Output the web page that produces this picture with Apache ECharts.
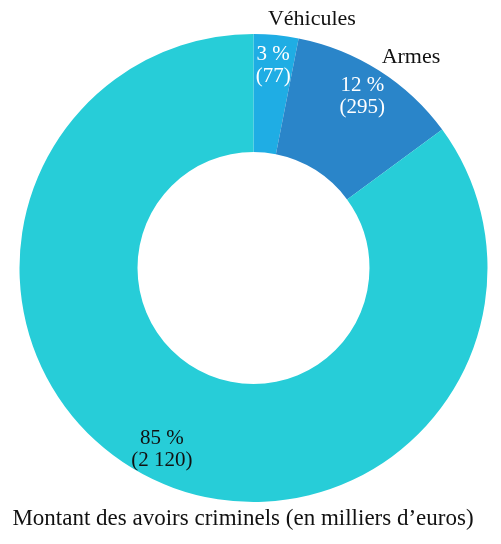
<!DOCTYPE html>
<html>
<head>
<meta charset="utf-8">
<script src="https://cdn.jsdelivr.net/npm/echarts@6/dist/echarts.min.js"></script>
<style>
  html, body { margin: 0; padding: 0; background: #fff; }
  #chart { width: 501px; height: 544px; }
</style>
</head>
<body>
<div id="chart"></div>
<script>
// données
const categories = ['Véhicules', 'Armes', 'Montant des avoirs criminels (en milliers d\u2019euros)']
const values = [77, 295, 2120]
const colors = ['#1fade4', '#2a85c9', '#27cdd8']

const font = '"Liberation Serif", "DejaVu Serif", serif'

function fmt(v) {
  return String(v).replace(/\B(?=(\d{3})+(?!\d))/g, ' ')
}

const chart = echarts.init(document.getElementById('chart'))

chart.setOption({
  animation: false,
  series: [
    {
      // anneau + noms à l'extérieur
      type: 'pie',
      center: [253.5, 268],
      radius: [116, 234],
      startAngle: 90,
      clockwise: true,
      silent: true,
      itemStyle: { borderWidth: 0 },
      label: {
        show: true,
        position: 'outside',
        color: '#111',
        fontFamily: font,
        fontSize: 22,
        overflow: 'none',
        formatter: '{b}'
      },
      labelLine: { show: false, length: 18, length2: 0 },
      labelLayout: function (p) {
        if (p.dataIndex === 2) {
          return { x: 243, y: 519, align: 'center', verticalAlign: 'middle', width: 490, fontSize: 23 }
        }
        return { dx: p.dataIndex === 0 ? -15 : -12, dy: 2 }
      },
      data: categories.map((name, i) => ({
        name: name,
        value: values[i],
        itemStyle: { color: colors[i] },
        label: i === 2 ? { fontSize: 23 } : {}
      }))
    },
    {
      // pourcentages et valeurs à l'intérieur
      type: 'pie',
      center: [253.5, 268],
      radius: [166, 234],
      startAngle: 90,
      clockwise: true,
      silent: true,
      itemStyle: { color: 'transparent' },
      label: {
        show: true,
        position: 'inside',
        fontFamily: font,
        fontSize: 21,
        lineHeight: 22,
        color: '#fff',
        formatter: p => Math.round(p.percent) + ' %\n(' + fmt(p.value) + ')'
      },
      labelLine: { show: false },
      data: categories.map((name, i) => ({
        name: name,
        value: values[i],
        label: i === 0 ? { padding: [0, 0, 24, 0] } : (i === 2 ? { color: '#111' } : {})
      }))
    }
  ]
})
</script>
</body>
</html>
